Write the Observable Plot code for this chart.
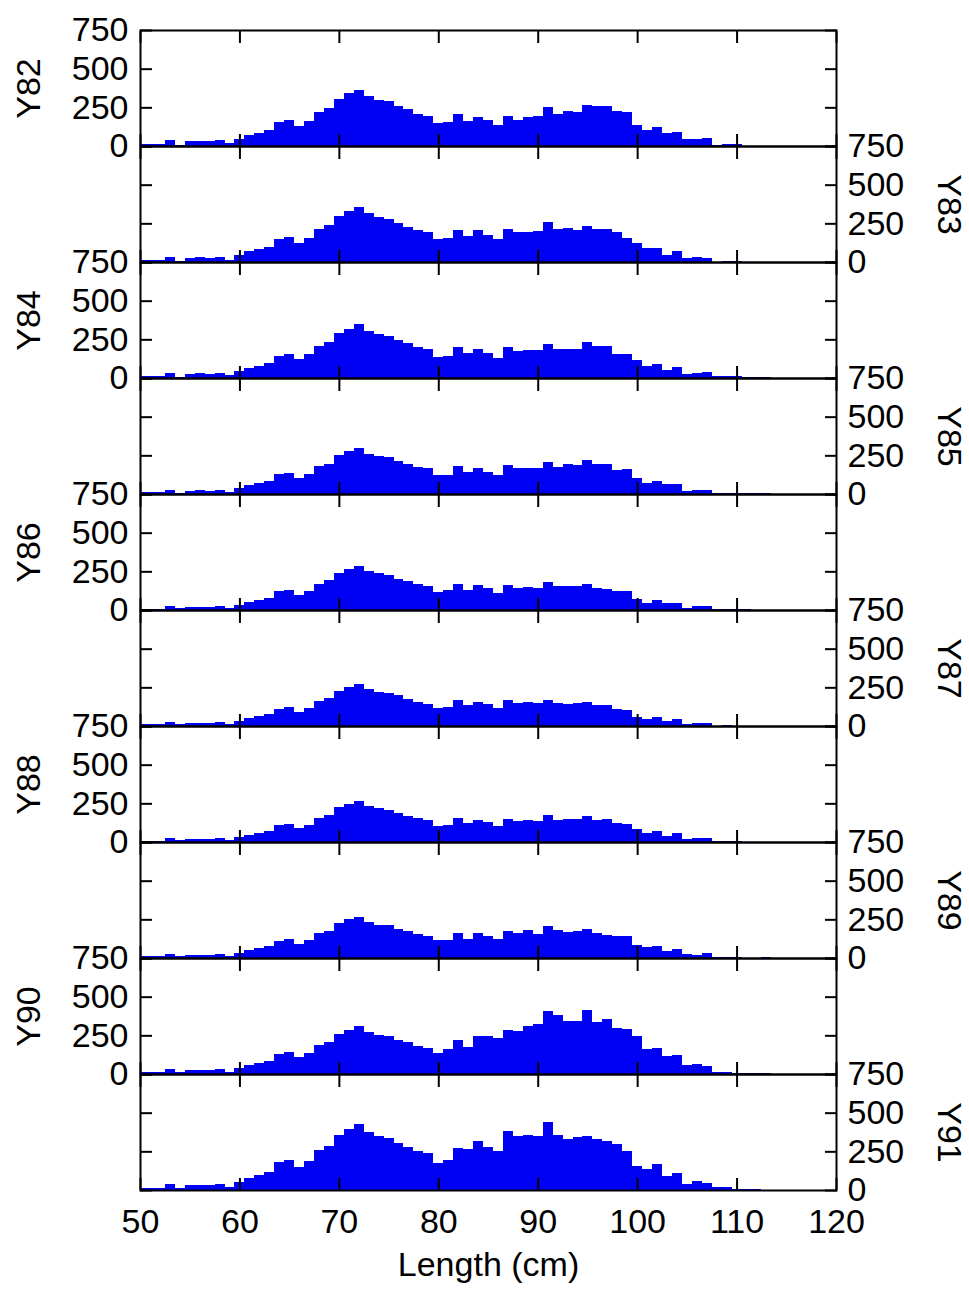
<!DOCTYPE html>
<html>
<head>
<meta charset="utf-8">
<script src="https://cdn.jsdelivr.net/npm/d3@7"></script>
<script src="https://cdn.jsdelivr.net/npm/@observablehq/plot@0.6"></script>
<style>
  body { margin: 0; background: #fff; }
  #chart svg { display: block; }
</style>
</head>
<body>
<div id="chart"></div>
<script>
// ---- Data (counts per 1-cm length class) ----
const years = ["Y82","Y83","Y84","Y85","Y86","Y87","Y88","Y89","Y90","Y91"];
const xTicks = [50, 60, 70, 80, 90, 100, 110, 120];
const yTicks = [0, 250, 500, 750];
const lengths = [50,51,52,53,54,55,56,57,58,59,60,61,62,63,64,65,66,67,68,69,70,71,72,73,74,75,76,77,78,79,80,81,82,83,84,85,86,87,88,89,90,91,92,93,94,95,96,97,98,99,100,101,102,103,104,105,106,107,108,109,110,111,112,113];

const Y82 = [15,15,15,37,9,30,34,30,37,19, 47,71,86,103,157,168,131,163,221,245, 307,342,365,325,299,290,260,239,209,196, 148,157,209,161,189,166,138,196,170,189, 196,254,204,228,221,264,256,260,228,221, 135,103,120,86,92,43,47,54,6,13, 11,0,0,0];
const Y83 = [13,13,13,34,9,24,30,26,34,15, 45,71,82,99,151,162,125,157,213,239, 300,332,358,319,293,280,254,228,209,196, 149,153,209,168,209,172,149,211,194,196, 198,259,213,222,209,235,215,215,196,157, 123,88,90,47,73,24,32,26,2,9, 6,2,2,2];
const Y84 = [11,11,11,32,9,24,30,28,35,17, 45,65,78,97,145,156,121,154,208,232, 290,320,346,305,284,271,245,225,201,188, 139,145,199,160,188,162,130,199,173,182, 182,221,188,188,188,234,208,206,156,158, 115,78,93,54,71,26,35,37,13,13, 11,9,9,9];
const Y85 = [11,11,11,28,9,22,28,22,28,15, 39,58,74,87,128,134,104,132,180,197, 249,275,299,260,245,236,214,195,175,165, 126,126,178,145,167,145,121,188,167,171, 167,210,173,197,188,223,191,191,152,162, 106,74,84,63,65,17,26,26,6,6, 6,4,4,4];
const Y86 = [9,9,9,26,13,19,22,22,26,13, 35,54,67,78,121,130,100,126,171,191, 240,268,286,255,238,225,201,188,165,156, 119,130,169,132,162,141,113,162,145,147, 145,184,152,158,158,167,145,136,121,121, 69,45,63,48,48,15,24,26,6,9, 4,4,0,0];
const Y87 = [11,11,11,24,13,19,22,22,24,13, 35,50,63,76,113,121,93,117,160,178, 225,251,271,236,223,214,199,173,158,145, 115,121,165,136,152,143,115,165,149,154, 149,171,147,141,149,152,136,136,110,106, 61,45,56,30,45,13,19,19,2,4, 2,0,0,0];
const Y88 = [9,9,9,24,13,20,20,20,24,13, 33,48,59,72,109,117,89,113,158,176, 224,247,267,232,219,210,187,169,152,141, 102,111,152,122,141,130,102,148,135,145, 139,176,145,148,148,165,145,148,124,119, 82,61,69,41,56,17,24,24,4,9, 4,2,2,2];
const Y89 = [11,11,11,24,13,19,22,19,24,13, 35,50,63,76,112,121,93,117,160,177, 225,251,268,231,216,212,188,173,153,143, 114,117,160,125,164,140,123,175,162,181, 156,205,179,171,173,186,164,149,145,140, 86,71,76,45,56,24,19,30,4,4, 6,2,2,6];
const Y90 = [13,13,13,30,11,24,28,26,32,15, 39,58,73,84,131,140,108,136,190,207, 259,287,310,272,254,246,220,209,181,168, 138,162,220,175,248,246,235,282,280,312, 323,405,384,340,345,414,338,356,297,289, 246,162,168,119,123,60,67,50,11,13, 9,6,6,6];
const Y91 = [15,15,15,39,13,30,32,32,39,19, 52,80,95,115,180,193,149,188,258,286, 357,396,429,377,351,338,305,279,249,240, 175,193,273,264,318,279,249,383,349,357, 346,437,353,329,340,351,327,320,299,255, 156,139,165,93,110,37,58,48,17,22, 9,4,4,0];

const series = {Y82, Y83, Y84, Y85, Y86, Y87, Y88, Y89, Y90, Y91};

// ---- Tables built from the arrays ----
const rows = years.flatMap(year => lengths.map((len, i) => ({year, len, count: series[year][i]})));
const leftYears = years.filter((y, i) => i % 2 === 0);
const rightYears = years.filter((y, i) => i % 2 === 1);
const yLabelRows = years.flatMap((year, i) => yTicks.map(v => ({year, v, side: i % 2 === 0 ? "left" : "right"})));

const chart = Plot.plot({
  width: 969,
  height: 1289,
  marginLeft: 140,
  marginRight: 133,
  marginTop: 28,
  marginBottom: 97,
  style: {fontFamily: "'Liberation Sans', Arial, sans-serif", fontSize: "34px", color: "black", background: "white", overflow: "visible"},
  x: {domain: [50, 120], ticks: xTicks, label: null},
  y: {domain: [0, 750], ticks: yTicks, label: null},
  fy: {domain: years, padding: 0, axis: null, label: null},
  marks: [
    Plot.rect(rows, {x1: d => d.len - 0.5, x2: d => d.len + 0.5, y1: d => 0, y2: "count", fy: "year", fill: "#0000f5", clip: true, shapeRendering: "crispEdges"}),
    Plot.frame({stroke: "black", strokeWidth: 2}),
    Plot.axisX(xTicks, {anchor: "bottom", tickSize: -12, fill: "none", strokeWidth: 2, facetAnchor: null, label: null}),
    Plot.axisX(xTicks, {anchor: "top", tickSize: -12, fill: "none", strokeWidth: 2, facetAnchor: null, label: null}),
    Plot.axisY(yTicks, {anchor: "left", tickSize: -12, fill: "none", strokeWidth: 2, label: null}),
    Plot.axisY(yTicks, {anchor: "right", tickSize: -12, fill: "none", strokeWidth: 2, label: null}),
    Plot.axisX(xTicks, {anchor: "bottom", tickSize: 0, tickPadding: 18, fill: "black", label: "Length (cm)", labelAnchor: "center", labelArrow: "none", labelOffset: 85}),
    Plot.text(yLabelRows.filter(d => d.side === "left"), {fy: "year", y: "v", text: d => String(d.v), frameAnchor: "left", dx: -12, textAnchor: "end", fill: "black"}),
    Plot.text(yLabelRows.filter(d => d.side === "right"), {fy: "year", y: "v", text: d => String(d.v), frameAnchor: "right", dx: 11, textAnchor: "start", fill: "black"}),
    Plot.text(leftYears, {fy: d => d, text: d => d, frameAnchor: "left", textAnchor: "middle", rotate: -90, dx: -111, fill: "black"}),
    Plot.text(rightYears, {fy: d => d, text: d => d, frameAnchor: "right", textAnchor: "middle", rotate: 90, dx: 112, fill: "black"})
  ]
});
document.getElementById("chart").appendChild(chart);
</script>
</body>
</html>
